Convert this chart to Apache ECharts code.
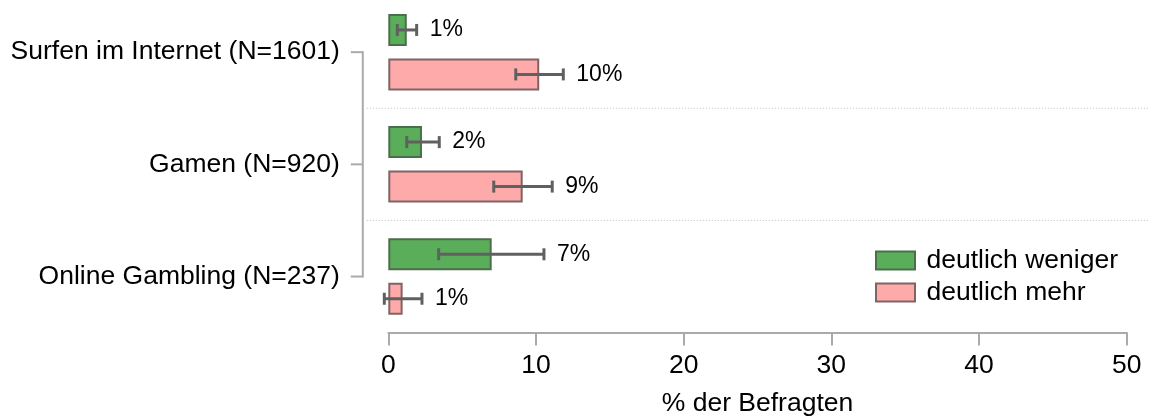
<!DOCTYPE html>
<html><head><meta charset="utf-8">
<script src="https://cdn.jsdelivr.net/npm/echarts@6/dist/echarts.min.js"></script>
<style>html,body{margin:0;padding:0;background:#fff}#c{width:1149px;height:418px}</style>
</head><body><div id="c"></div>
<script>
// ---- data ----
const categories = ['Surfen im Internet (N=1601)', 'Gamen (N=920)', 'Online Gambling (N=237)'];
const seriesNames = ['deutlich weniger', 'deutlich mehr'];
const weniger = [1.25, 2.28, 7.0];
const wenigerLow = [0.61, 1.25, 3.41];
const wenigerHigh = [1.92, 3.45, 10.54];
const mehr = [10.22, 9.10, 0.97];
const mehrLow = [8.63, 7.14, -0.27];
const mehrHigh = [11.85, 11.10, 2.28];
const xMin = 0, xMax = 50, xInterval = 10;
const xTitle = '% der Befragten';

// ---- style ----
const FONT = "'Liberation Sans', Arial, Helvetica, sans-serif";
const BAR_W = 32, BAR_GAP = 0.39;
const OFF = BAR_W * (1 + BAR_GAP) / 2;
const Y_OFFSET = 25.5;
const TICK_LEN = 12;
const AXIS_COLOR = '#aaaaaa';
const ERR_COLOR = '#606060';

function errSeries(id, values, low, high, dir) {
  return {
    type: 'custom', name: id, coordinateSystem: 'cartesian2d', clip: false, z: 5,
    silent: true,
    data: low.map((l, i) => [l, high[i], i, Math.round(values[i])]),
    renderItem(params, api) {
      const idx = api.value(2);
      const p1 = api.coord([api.value(0), idx]);
      const p2 = api.coord([api.value(1), idx]);
      const y = p1[1] + dir * OFF;
      const st = { stroke: ERR_COLOR, lineWidth: 3 };
      return {
        type: 'group', children: [
          { type: 'line', shape: { x1: p1[0], y1: y, x2: p2[0], y2: y }, style: st },
          { type: 'line', shape: { x1: p1[0], y1: y - 6, x2: p1[0], y2: y + 6 }, style: st },
          { type: 'line', shape: { x1: p2[0], y1: y - 6, x2: p2[0], y2: y + 6 }, style: st },
          { type: 'text', x: p2[0] + 13, y: y, style: {
              text: api.value(3) + '%', fill: '#000', fontSize: 23, fontFamily: FONT,
              align: 'left', verticalAlign: 'middle' } }
        ]
      };
    }
  };
}

const frameSeries = {
  type: 'custom', name: 'frame', coordinateSystem: 'cartesian2d', clip: false, silent: true, z: 1,
  data: [[0, 0]],
  renderItem(params, api) {
    const cs = params.coordSys;
    const n = categories.length;
    const ys = categories.map((c, i) => api.coord([0, i])[1]);
    const ax = cs.x - Y_OFFSET;
    const st = { stroke: AXIS_COLOR, lineWidth: 2 };
    const children = [
      { type: 'line', shape: { x1: ax, y1: ys[0] - 1, x2: ax, y2: ys[n - 1] + 1 }, style: st }
    ];
    ys.forEach(y => children.push({ type: 'line', shape: { x1: ax - TICK_LEN, y1: y, x2: ax, y2: y }, style: st }));
    for (let i = 0; i < n - 1; i++) {
      const y = (ys[i] + ys[i + 1]) / 2;
      children.push({ type: 'line', shape: { x1: ax + 4, y1: y, x2: cs.x + cs.width + 23, y2: y },
        style: { stroke: '#bbbbbb', lineWidth: 1, lineDash: [1, 2] } });
    }
    return { type: 'group', children };
  }
};

const chart = echarts.init(document.getElementById('c'), null, { renderer: 'canvas' });
chart.setOption({
  animation: false,
  backgroundColor: '#ffffff',
  grid: { left: 388.3, right: 22.3, top: -3.9, bottom: 85.4, outerBoundsMode: 'none', containLabel: false },
  legend: {
    orient: 'vertical', left: 875, top: 247, padding: 0, itemWidth: 39, itemHeight: 18, itemGap: 5,
    icon: 'rect', data: seriesNames,
    textStyle: { fontSize: 26.5, color: '#000', fontFamily: FONT, padding: [0, 0, 0, 6.5] }
  },
  xAxis: {
    type: 'value', min: xMin, max: xMax, interval: xInterval,
    axisLine: { show: true, lineStyle: { color: AXIS_COLOR, width: 2 } },
    axisTick: { show: true, length: 13, lineStyle: { color: AXIS_COLOR, width: 2 } },
    splitLine: { show: false },
    axisLabel: { fontSize: 26.5, color: '#000', fontFamily: FONT, margin: 20 },
    name: xTitle, nameLocation: 'middle', nameGap: 58,
    nameTextStyle: { fontSize: 26.5, color: '#000', fontFamily: FONT }
  },
  yAxis: {
    type: 'category', data: categories, inverse: true, offset: Y_OFFSET,
    axisLine: { show: false },
    axisTick: { show: false },
    axisLabel: { fontSize: 26.5, color: '#000', fontFamily: FONT, margin: 23 },
    splitLine: { show: false }
  },
  series: [
    { type: 'bar', name: seriesNames[0], data: weniger, barWidth: BAR_W, barGap: (BAR_GAP * 100) + '%',
      itemStyle: { color: '#5aae5a', borderColor: '#4b6e4b', borderWidth: 2 }, z: 3 },
    { type: 'bar', name: seriesNames[1], data: mehr, barWidth: BAR_W, barGap: (BAR_GAP * 100) + '%',
      itemStyle: { color: '#ffaaaa', borderColor: '#806464', borderWidth: 2 }, z: 3 },
    errSeries('err0', weniger, wenigerLow, wenigerHigh, -1),
    errSeries('err1', mehr, mehrLow, mehrHigh, 1),
    frameSeries
  ]
});
</script>
</body></html>
